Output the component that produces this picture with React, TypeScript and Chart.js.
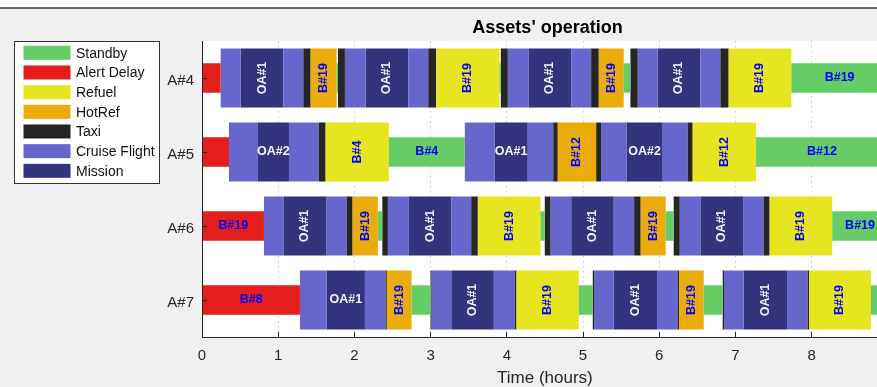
import React, { useEffect, useRef } from 'react';
import { Chart, registerables } from 'chart.js';

Chart.register(...registerables);

const ASSETS = ['A#4', 'A#5', 'A#6', 'A#7'];
const PHASES = ['Standby', 'Alert Delay', 'Refuel', 'HotRef', 'Taxi', 'Cruise Flight', 'Mission'];
const PHASE_COLORS = ['#66cc66', '#e41d1d', '#e5e520', '#e9ac0a', '#262626', '#6666cc', '#33337e'];
const THIN_PHASES = ['Standby', 'Alert Delay'];
const TIME_MIN = 0;
const TIME_MAX = 9;
const TITLE = "Assets' operation";
const X_TITLE = 'Time (hours)';

type Seg = [string, number, number, string];

const SB = 'Standby', AD = 'Alert Delay', RF = 'Refuel', HR = 'HotRef', TX = 'Taxi', CR = 'Cruise Flight', MI = 'Mission';

const A4_SEGS: Seg[] = [
  [AD, 0, 0.245, ''],
  [CR, 0.245, 0.508, ''],
  [MI, 0.508, 1.068, 'OA#1'],
  [CR, 1.068, 1.33, ''],
  [TX, 1.33, 1.426, ''],
  [HR, 1.426, 1.767, 'B#19'],
  [SB, 1.767, 1.784, ''],
  [TX, 1.784, 1.875, ''],
  [CR, 1.875, 2.147, ''],
  [MI, 2.147, 2.707, 'OA#1'],
  [CR, 2.707, 2.969, ''],
  [TX, 2.969, 3.074, ''],
  [RF, 3.074, 3.904, 'B#19'],
  [SB, 3.904, 3.921, ''],
  [TX, 3.921, 4.013, ''],
  [CR, 4.013, 4.289, ''],
  [MI, 4.289, 4.845, 'OA#1'],
  [CR, 4.845, 5.107, ''],
  [TX, 5.107, 5.207, ''],
  [HR, 5.207, 5.534, 'B#19'],
  [SB, 5.534, 5.622, ''],
  [TX, 5.622, 5.718, ''],
  [CR, 5.718, 5.98, ''],
  [MI, 5.98, 6.54, 'OA#1'],
  [CR, 6.54, 6.803, ''],
  [TX, 6.803, 6.911, ''],
  [RF, 6.911, 7.734, 'B#19'],
  [SB, 7.734, 9, 'B#19'],
];

const A5_SEGS: Seg[] = [
  [AD, 0, 0.354, ''],
  [CR, 0.354, 0.734, ''],
  [MI, 0.734, 1.141, 'OA#2'],
  [CR, 1.141, 1.534, ''],
  [TX, 1.534, 1.622, ''],
  [RF, 1.622, 2.452, 'B#4'],
  [SB, 2.452, 3.449, 'B#4'],
  [CR, 3.449, 3.839, ''],
  [MI, 3.839, 4.275, 'OA#1'],
  [CR, 4.275, 4.609, ''],
  [TX, 4.609, 4.669, ''],
  [HR, 4.669, 5.172, 'B#12'],
  [TX, 5.172, 5.238, ''],
  [CR, 5.238, 5.57, ''],
  [MI, 5.57, 6.046, 'OA#2'],
  [CR, 6.046, 6.374, ''],
  [TX, 6.374, 6.439, ''],
  [RF, 6.439, 7.271, 'B#12'],
  [SB, 7.271, 9, 'B#12'],
];

const A6_SEGS: Seg[] = [
  [AD, 0, 0.813, 'B#19'],
  [CR, 0.813, 1.068, ''],
  [MI, 1.068, 1.635, 'OA#1'],
  [CR, 1.635, 1.898, ''],
  [TX, 1.898, 1.976, ''],
  [HR, 1.976, 2.308, 'B#19'],
  [SB, 2.308, 2.366, ''],
  [TX, 2.366, 2.439, ''],
  [CR, 2.439, 2.715, ''],
  [MI, 2.715, 3.271, 'OA#1'],
  [CR, 3.271, 3.533, ''],
  [TX, 3.533, 3.62, ''],
  [RF, 3.62, 4.442, 'B#19'],
  [SB, 4.442, 4.498, ''],
  [TX, 4.498, 4.573, ''],
  [CR, 4.573, 4.845, ''],
  [MI, 4.845, 5.403, 'OA#1'],
  [CR, 5.403, 5.671, ''],
  [TX, 5.671, 5.757, ''],
  [HR, 5.757, 6.085, 'B#19'],
  [SB, 6.085, 6.19, ''],
  [TX, 6.19, 6.269, ''],
  [CR, 6.269, 6.54, ''],
  [MI, 6.54, 7.108, 'OA#1'],
  [CR, 7.108, 7.37, ''],
  [TX, 7.37, 7.449, ''],
  [RF, 7.449, 8.271, 'B#19'],
  [SB, 8.271, 9, 'B#19'],
];

const A7_SEGS: Seg[] = [
  [AD, 0, 1.285, 'B#8'],
  [CR, 1.285, 1.635, ''],
  [MI, 1.635, 2.138, 'OA#1'],
  [CR, 2.138, 2.409, ''],
  [TX, 2.409, 2.426, ''],
  [HR, 2.426, 2.75, 'B#19'],
  [SB, 2.75, 2.999, ''],
  [TX, 2.999, 3.012, ''],
  [CR, 3.012, 3.271, ''],
  [MI, 3.271, 3.83, 'OA#1'],
  [CR, 3.83, 4.105, ''],
  [TX, 4.105, 4.127, ''],
  [RF, 4.127, 4.944, 'B#19'],
  [SB, 4.944, 5.128, ''],
  [TX, 5.128, 5.146, ''],
  [CR, 5.146, 5.403, ''],
  [MI, 5.403, 5.972, 'OA#1'],
  [CR, 5.972, 6.243, ''],
  [TX, 6.243, 6.261, ''],
  [HR, 6.261, 6.584, 'B#19'],
  [SB, 6.584, 6.833, ''],
  [TX, 6.833, 6.851, ''],
  [CR, 6.851, 7.108, ''],
  [MI, 7.108, 7.677, 'OA#1'],
  [CR, 7.677, 7.948, ''],
  [TX, 7.948, 7.966, ''],
  [RF, 7.966, 8.779, 'B#19'],
  [SB, 8.779, 9, ''],
];

const ROW_SEGS: Seg[][] = [A4_SEGS, A5_SEGS, A6_SEGS, A7_SEGS];

const FONT = '"Liberation Sans", Arial, Helvetica, sans-serif';
const AXIS_COLOR = '#262626';

const backgroundPlugin = {
  id: 'figureBackground',
  beforeDraw(chart: any) {
    const { ctx, width, height, chartArea } = chart;
    ctx.save();
    ctx.fillStyle = '#ffffff';
    ctx.fillRect(0, 0, width, height);
    ctx.fillStyle = '#666666';
    ctx.fillRect(0, 7, width, 2);
    ctx.fillStyle = '#f0f0f0';
    ctx.fillRect(0, 9, width, height - 9);
    ctx.fillStyle = '#ffffff';
    ctx.fillRect(chartArea.left, chartArea.top, chartArea.right - chartArea.left, chartArea.bottom - chartArea.top);
    ctx.restore();
  },
};

const segmentLabelPlugin = {
  id: 'segmentLabels',
  afterDatasetsDraw(chart: any) {
    const { ctx, chartArea } = chart;
    ctx.save();
    ctx.beginPath();
    ctx.rect(chartArea.left, chartArea.top, chartArea.right - chartArea.left, chartArea.bottom - chartArea.top);
    ctx.clip();
    ctx.font = `bold 12.5px ${FONT}`;
    ctx.textAlign = 'center';
    ctx.textBaseline = 'middle';
    chart.data.datasets.forEach((ds: any, di: number) => {
      const meta = chart.getDatasetMeta(di);
      ds.data.forEach((pt: any, i: number) => {
        if (!pt.tag) return;
        const el = meta.data[i];
        if (!el) return;
        const cx = (el.x + el.base) / 2;
        const cy = el.y;
        const phase = ds.label;
        const vertical =
          phase === 'Refuel' || phase === 'HotRef' || (phase === 'Mission' && pt.x[1] - pt.x[0] > 0.53);
        ctx.fillStyle = phase === 'Mission' ? '#f4f4f4' : '#0000ff';
        ctx.save();
        ctx.translate(cx, cy);
        if (vertical) ctx.rotate(-Math.PI / 2);
        ctx.fillText(pt.tag, 0, 0);
        ctx.restore();
      });
    });
    ctx.restore();
  },
};

const overlayPlugin = {
  id: 'overlay',
  afterDraw(chart: any) {
    const { ctx } = chart;
    ctx.save();
    // title
    ctx.fillStyle = '#000000';
    ctx.font = `bold 18px ${FONT}`;
    ctx.textAlign = 'center';
    ctx.textBaseline = 'alphabetic';
    ctx.fillText(TITLE, 547.5, 33);
    // legend
    ctx.fillStyle = '#ffffff';
    ctx.fillRect(14.5, 41.5, 145, 142);
    ctx.strokeStyle = '#333333';
    ctx.lineWidth = 1;
    ctx.strokeRect(14.5, 41.5, 145, 142);
    ctx.font = `14px ${FONT}`;
    ctx.textAlign = 'left';
    ctx.textBaseline = 'middle';
    chart.data.datasets.forEach((ds: any, i: number) => {
      const cy = 52.8 + i * 19.67;
      ctx.fillStyle = ds.backgroundColor;
      ctx.fillRect(23.5, cy - 7, 47, 14);
      ctx.fillStyle = '#111111';
      ctx.fillText(ds.label, 76, cy + 1);
    });
    ctx.restore();
  },
};

export default function App() {
  const ref = useRef<HTMLCanvasElement>(null);

  useEffect(() => {
    const datasets = PHASES.map((phase, k) => {
      const data: any[] = [];
      ROW_SEGS.forEach((segs, r) => {
        segs.forEach(([p, s, e, tag]) => {
          if (p === phase) data.push({ x: [s, e], y: ASSETS[r], tag });
        });
      });
      return {
        label: phase,
        data,
        backgroundColor: PHASE_COLORS[k],
        borderWidth: 0,
        grouped: false,
        categoryPercentage: 1,
        barPercentage: THIN_PHASES.includes(phase) ? 0.4 : 0.8,
      };
    });

    const chart = new Chart(ref.current as HTMLCanvasElement, {
      type: 'bar',
      data: { labels: ASSETS, datasets: datasets as any },
      options: {
        indexAxis: 'y',
        animation: false,
        responsive: false,
        devicePixelRatio: 1,
        events: [],
        layout: { padding: { top: 41, left: 0, right: 0, bottom: 0 } },
        plugins: {
          legend: { display: false },
          title: { display: false },
          tooltip: { enabled: false },
        },
        scales: {
          x: {
            type: 'linear',
            position: 'bottom',
            min: TIME_MIN,
            max: TIME_MAX,
            afterFit: (s: any) => {
              s.height = 50;
            },
            ticks: {
              stepSize: 1,
              font: { family: FONT, size: 15 },
              color: AXIS_COLOR,
              padding: 15,
              maxRotation: 0,
            },
            grid: {
              color: '#c8c8c8',
              lineWidth: 1,
              drawOnChartArea: true,
              drawTicks: true,
              tickLength: -5,
              tickColor: AXIS_COLOR,
              tickBorderDash: [],
            },
            border: { display: true, color: AXIS_COLOR, width: 1, dash: [1.5, 3.5], z: 1 },
            title: {
              display: true,
              text: X_TITLE,
              font: { family: FONT, size: 17, lineHeight: 1 },
              color: AXIS_COLOR,
              padding: { top: 0, bottom: 0.5 },
            },
          } as any,
          y: {
            type: 'category',
            position: 'left',
            offset: true,
            afterFit: (s: any) => {
              s.width = 202;
            },
            ticks: {
              font: { family: FONT, size: 15 },
              color: AXIS_COLOR,
              padding: 13,
              labelOffset: 3,
            },
            grid: {
              offset: false,
              drawOnChartArea: false,
              drawTicks: true,
              tickLength: -5,
              tickColor: AXIS_COLOR,
              z: 1,
            },
            border: { display: true, color: AXIS_COLOR, width: 1, z: 1 },
          } as any,
        },
      },
      plugins: [backgroundPlugin, segmentLabelPlugin, overlayPlugin],
    });
    return () => chart.destroy();
  }, []);

  return (
    <div
      style={{
        position: 'fixed',
        left: 0,
        top: 0,
        width: 877,
        height: 387,
        overflow: 'hidden',
        background: '#f0f0f0',
      }}
    >
      <canvas ref={ref} width={907} height={387} style={{ display: 'block', width: 907, height: 387 }} />
    </div>
  );
}
